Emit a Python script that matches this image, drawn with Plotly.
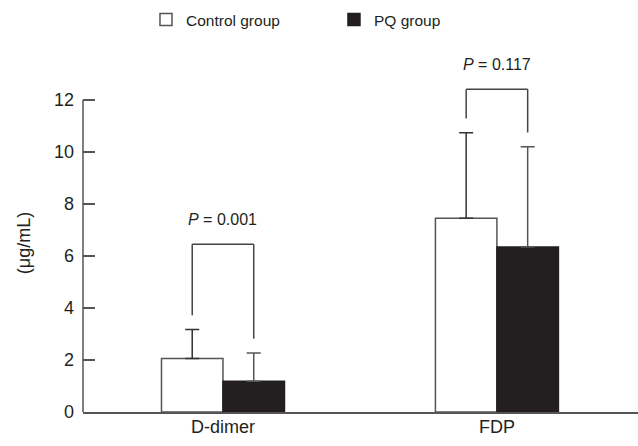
import plotly.graph_objects as go

# ---- data ----
categories = ["D-dimer", "FDP"]
control_mean = [2.06, 7.45]
control_sd = [1.11, 3.29]
pq_mean = [1.18, 6.35]
pq_sd = [1.09, 3.85]
p_labels = ["0.001", "0.117"]
bracket_top = [6.45, 12.41]
y_ticks = [0, 2, 4, 6, 8, 10, 12]

# ---- style ----
FONT = "Liberation Sans, Arial, Helvetica, sans-serif"
TXT = "#231f20"
AXIS_COLOR = "#555555"
DARK = "#231f20"
BAR_W = 0.2245
LEG_GAP = 0.55

fig = go.Figure()
fig.add_trace(go.Bar(
    name="Control group", x=categories, y=control_mean,
    width=BAR_W, offset=-BAR_W,
    marker=dict(color="white", line=dict(color=AXIS_COLOR, width=1.5)),
    error_y=dict(type="data", symmetric=False, array=control_sd,
                 arrayminus=[0] * len(control_sd),
                 color="#333333", thickness=1.5, width=7),
))
fig.add_trace(go.Bar(
    name="PQ group", x=categories, y=pq_mean,
    width=BAR_W, offset=0,
    marker=dict(color=DARK, line=dict(color=DARK, width=1.5)),
    error_y=dict(type="data", symmetric=False, array=pq_sd,
                 arrayminus=[0] * len(pq_sd),
                 color="#555555", thickness=1.5, width=7),
))

shapes = []
annotations = []
for i, cat in enumerate(categories):
    xl = i - BAR_W / 2
    xr = i + BAR_W / 2
    top = bracket_top[i]
    yl = control_mean[i] + control_sd[i] + LEG_GAP
    yr = pq_mean[i] + pq_sd[i] + LEG_GAP
    ln = dict(color="#444444", width=1.5)
    shapes.append(dict(type="line", xref="x", yref="y", x0=xl, x1=xl, y0=yl, y1=top, line=ln))
    shapes.append(dict(type="line", xref="x", yref="y", x0=xl, x1=xr, y0=top, y1=top, line=ln))
    shapes.append(dict(type="line", xref="x", yref="y", x0=xr, x1=xr, y0=top, y1=yr, line=ln))
    annotations.append(dict(
        x=cat, y=top, xref="x", yref="y", text="<i>P</i> = " + p_labels[i],
        showarrow=False, yanchor="middle", yshift=25,
        font=dict(family=FONT, size=16, color=TXT),
    ))

# y-axis line from 0 to 12 only
shapes.append(dict(type="line", xref="paper", yref="y", x0=0, x1=0,
                   y0=y_ticks[0], y1=y_ticks[-1],
                   line=dict(color=AXIS_COLOR, width=1.5)))

fig.update_layout(
    width=638, height=446,
    margin=dict(l=83, r=0, t=74, b=34),
    paper_bgcolor="white", plot_bgcolor="white",
    font=dict(family=FONT, size=18, color=TXT),
    barmode="group",
    showlegend=True,
    legend=dict(orientation="h", xref="container", yref="container",
                x=0.2288, y=1 - 20 / 446, xanchor="left", yanchor="middle",
                entrywidth=143, entrywidthmode="pixels",
                font=dict(family=FONT, size=15.5, color=TXT),
                bgcolor="rgba(0,0,0,0)"),
    xaxis=dict(type="category", range=[-0.511, 1.515], showline=True,
               linecolor=AXIS_COLOR, linewidth=1.5, ticks="", showgrid=False,
               zeroline=False, ticklabelstandoff=-2, automargin=False,
               tickfont=dict(family=FONT, size=18, color=TXT)),
    yaxis=dict(range=[0, 13], tickvals=y_ticks, ticks="inside", ticklen=12,
               tickwidth=1.5, tickcolor=AXIS_COLOR, showline=False,
               showgrid=False, zeroline=False, ticklabelstandoff=8,
               automargin=False,
               tickfont=dict(family=FONT, size=18, color=TXT),
               title=dict(text="(μg/mL)", standoff=18,
                          font=dict(family=FONT, size=18, color=TXT))),
    shapes=shapes,
    annotations=annotations,
)

fig.write_html("out.html", config={"displayModeBar": False},
               post_script="document.body.style.margin='0';document.body.style.padding='0';")
